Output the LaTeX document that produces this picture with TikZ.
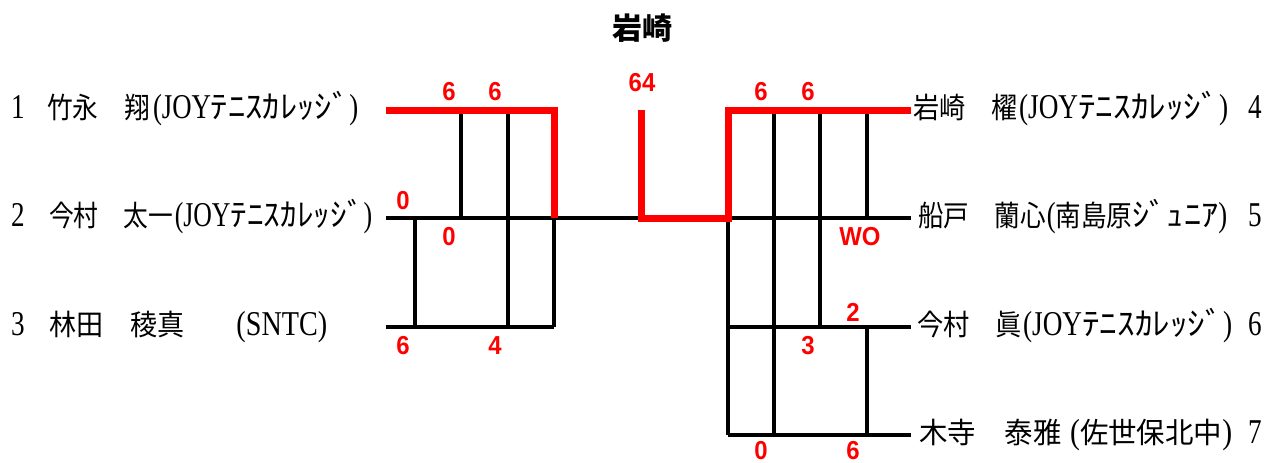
\documentclass[tikz,border=0pt]{standalone}
\usepackage{fontspec}
\usepackage{graphicx}
\setmainfont{Liberation Serif}[FakeStretch=0.78, Scale=1.2]
\newfontfamily\jp{Noto Sans CJK JP}[FakeStretch=0.9]
\newfontfamily\kana{Noto Sans CJK JP}[FakeStretch=1.1, Scale=1.1]
\newfontfamily\scorefont{Liberation Sans}[FakeStretch=0.92]
\newfontfamily\titlefont{Noto Sans CJK JP}
\newcommand\hw[2]{\resizebox{#1}{\height}{#2}}
\definecolor{wred}{RGB}{255,0,0}
\tikzset{
  blk/.style={line width=3.2pt, black},
  win/.style={line width=7pt, wred, line join=miter},
  lbl/.style={anchor=base west, inner sep=0pt, font=\fontsize{29}{29}\selectfont},
  rownum/.style={anchor=base west, inner sep=0pt, font=\fontsize{29}{29}\selectfont},
  sc/.style={inner sep=0pt, text=wred, font=\scorefont\bfseries\fontsize{26}{26}\selectfont},
}
\begin{document}
\begin{tikzpicture}[x=1pt,y=-1pt]
\useasboundingbox (0,0) rectangle (1269,463);
% title
\node[inner sep=0pt, font=\titlefont\bfseries\fontsize{30}{30}\selectfont] (title) at (642,28) {岩崎};
% row line ends
\coordinate (L1) at (386,110);
\coordinate (L2) at (386,218);
\coordinate (L3) at (386,327);
\coordinate (R1) at (911,110);
\coordinate (R2) at (911,218);
\coordinate (R3) at (911,327);
\coordinate (R4) at (911,435);
% columns
\coordinate (ca) at (415,0);
\coordinate (cb) at (461,0);
\coordinate (cc) at (508,0);
\coordinate (cd) at (554,0);
\coordinate (cm) at (641,0);
\coordinate (ce) at (728,0);
\coordinate (cf) at (774,0);
\coordinate (cg) at (820,0);
\coordinate (ch) at (867,0);
% black lines, left block
\draw[blk] (L2) -- (cm |- L2);
\draw[blk] (L3) -- (cd |- L3);
\draw[blk] (ca |- L2) -- (ca |- L3);
\draw[blk] (cb |- L1) -- (cb |- L2);
\draw[blk] (cc |- L1) -- (cc |- L3);
\draw[blk] (cd |- L2) -- (cd |- L3);
% black lines, right block
\draw[blk] (ce |- R2) -- (R2);
\draw[blk] (ce |- R3) -- (R3);
\draw[blk] (ce |- R4) -- (R4);
\draw[blk] (ce |- R2) -- (ce |- R4);
\draw[blk] (cf |- R1) -- (cf |- R4);
\draw[blk] (cg |- R1) -- (cg |- R3);
\draw[blk] (ch |- R1) -- (ch |- R2);
\draw[blk] (ch |- R3) -- (ch |- R4);
% winners
\draw[win] (L1) -- (cd |- L1) -- (cd |- L2);
\draw[win] (cm |- L1) -- (cm |- L2) -- (ce |- R2) -- (ce |- R1) -- (R1);
% left labels
\node[rownum] (n1) at (11,118) {1};
\node[rownum] (n2) at (11,226) {2};
\node[rownum] (n3) at (11,335) {3};
\node[lbl] (p1) at (47,118) {\hw{311pt}{{\jp 竹永　翔}\hspace{3pt}(JOY{\kana ﾃﾆｽｶﾚｯｼﾞ})}};
\node[lbl] (p2) at (49,226) {\hw{323pt}{{\jp 今村　太一}\hspace{2pt}(JOY{\kana ﾃﾆｽｶﾚｯｼﾞ})}};
\node[lbl] (p3) at (49,335) {\hw{278pt}{{\jp 林田　稜真}\hspace{50pt}(SNTC)}};
% right labels
\node[lbl] (p4) at (913,118) {\hw{315pt}{{\jp 岩崎　櫂}\hspace{1pt}(JOY{\kana ﾃﾆｽｶﾚｯｼﾞ})}};
\node[lbl] (p5) at (918,226) {\hw{309pt}{{\jp 船戸　蘭心}\hspace{1pt}({\jp 南島原}{\kana ｼﾞｭﾆｱ})}};
\node[lbl] (p6) at (917,335) {\hw{315pt}{{\jp 今村　眞}\hspace{1pt}(JOY{\kana ﾃﾆｽｶﾚｯｼﾞ})}};
\node[lbl] (p7) at (919,443) {\hw{313pt}{{\jp 木寺　泰雅}\hspace{8pt}({\jp 佐世保北中})}};
\node[rownum] (n4) at (1248,118) {4};
\node[rownum] (n5) at (1248,226) {5};
\node[rownum] (n6) at (1248,335) {6};
\node[rownum] (n7) at (1248,443) {7};
% scores
\node[sc] (s1) at (449,92) {6};
\node[sc] (s2) at (495,92) {6};
\node[sc] (s3) at (403,201) {0};
\node[sc] (s4) at (449,237) {0};
\node[sc] (s5) at (403,346) {6};
\node[sc] (s6) at (495,346) {4};
\node[sc] (s7) at (642,83) {64};
\node[sc] (s8) at (761,92) {6};
\node[sc] (s9) at (808,92) {6};
\node[sc] (s10) at (860,237) {WO};
\node[sc] (s11) at (853,312) {2};
\node[sc] (s12) at (808,346) {3};
\node[sc] (s13) at (761,451) {0};
\node[sc] (s14) at (853,451) {6};
\end{tikzpicture}
\end{document}
